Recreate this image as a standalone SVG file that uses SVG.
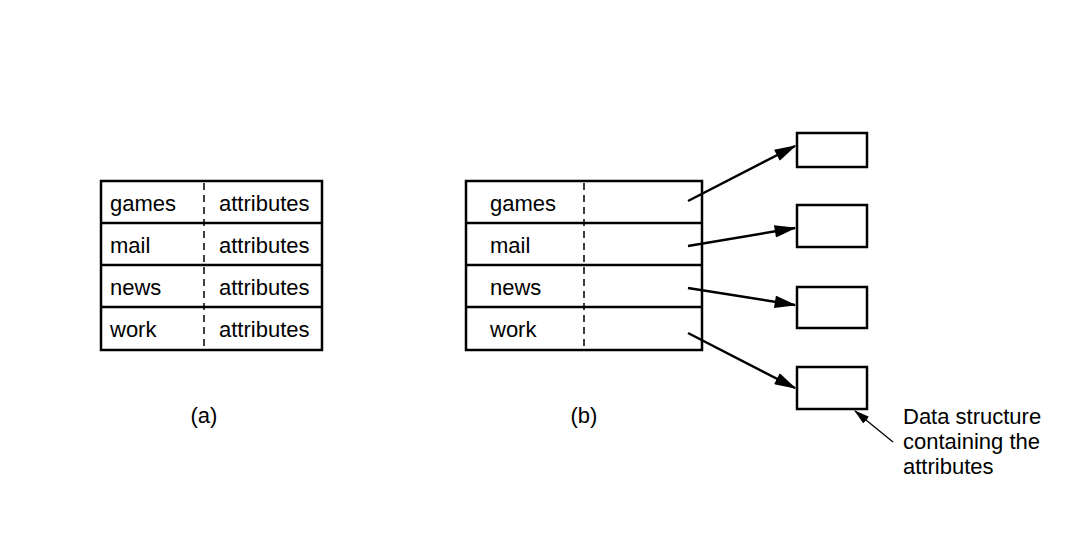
<svg xmlns="http://www.w3.org/2000/svg" width="1091" height="556" viewBox="0 0 1091 556">
<style>
text{font-family:"Liberation Sans",Arial,sans-serif;font-size:22px;fill:#000}
.box{fill:#fff;stroke:#000;stroke-width:2.5}
.row{stroke:#000;stroke-width:2.5}
.dash{stroke:#000;stroke-width:1.5;stroke-dasharray:7,5}
.conn{stroke:#000;stroke-width:2.5;fill:none}
.thin{stroke:#000;stroke-width:1.3;fill:none}
</style>
<defs>
<marker id="ah" viewBox="0 0 14 8" refX="13" refY="4" markerWidth="9" markerHeight="5" orient="auto" markerUnits="strokeWidth">
<path d="M0,0 L14,4 L0,8 Z" fill="#000"/>
</marker>
<marker id="ahs" viewBox="0 0 14 8" refX="13" refY="4" markerWidth="12" markerHeight="7" orient="auto" markerUnits="strokeWidth">
<path d="M0,0 L14,4 L0,8 Z" fill="#000"/>
</marker>
</defs>
<rect width="1091" height="556" fill="#fff"/>
<g id="table-a">
<rect class="box" x="101" y="181" width="221" height="169"/>
<line class="row" x1="101" y1="223" x2="322" y2="223"/>
<line class="row" x1="101" y1="265" x2="322" y2="265"/>
<line class="row" x1="101" y1="307" x2="322" y2="307"/>
<line class="dash" x1="204" y1="183" x2="204" y2="348"/>
<text x="110" y="211">games</text>
<text x="110" y="253">mail</text>
<text x="110" y="295">news</text>
<text x="110" y="337">work</text>
<text x="219" y="211">attributes</text>
<text x="219" y="253">attributes</text>
<text x="219" y="295">attributes</text>
<text x="219" y="337">attributes</text>
</g>
<g id="table-b">
<rect class="box" x="466" y="181" width="236" height="169"/>
<line class="row" x1="466" y1="223" x2="702" y2="223"/>
<line class="row" x1="466" y1="265" x2="702" y2="265"/>
<line class="row" x1="466" y1="307" x2="702" y2="307"/>
<line class="dash" x1="584" y1="183" x2="584" y2="348"/>
<text x="490" y="211">games</text>
<text x="490" y="253">mail</text>
<text x="490" y="295">news</text>
<text x="490" y="337">work</text>
</g>
<g id="box1"><rect class="box" x="797" y="133" width="70" height="34"/></g>
<g id="box2"><rect class="box" x="797" y="205" width="70" height="42"/></g>
<g id="box3"><rect class="box" x="797" y="287" width="70" height="41"/></g>
<g id="box4"><rect class="box" x="797" y="367" width="70" height="42"/></g>
<g id="label-a"><text x="204" y="423" text-anchor="middle">(a)</text></g>
<g id="label-b"><text x="584" y="423" text-anchor="middle">(b)</text></g>
<g id="note">
<text x="903" y="424">Data structure</text>
<text x="903" y="449">containing the</text>
<text x="903" y="474">attributes</text>
</g>
<g id="connectors">
<line class="conn" x1="688" y1="201" x2="795" y2="146" marker-end="url(#ah)"/>
<line class="conn" x1="688" y1="246" x2="795" y2="228" marker-end="url(#ah)"/>
<line class="conn" x1="688" y1="288" x2="795" y2="305" marker-end="url(#ah)"/>
<line class="conn" x1="688" y1="333" x2="795" y2="388" marker-end="url(#ah)"/>
<line class="thin" x1="893" y1="442" x2="855" y2="411" marker-end="url(#ahs)"/>
</g>
</svg>
